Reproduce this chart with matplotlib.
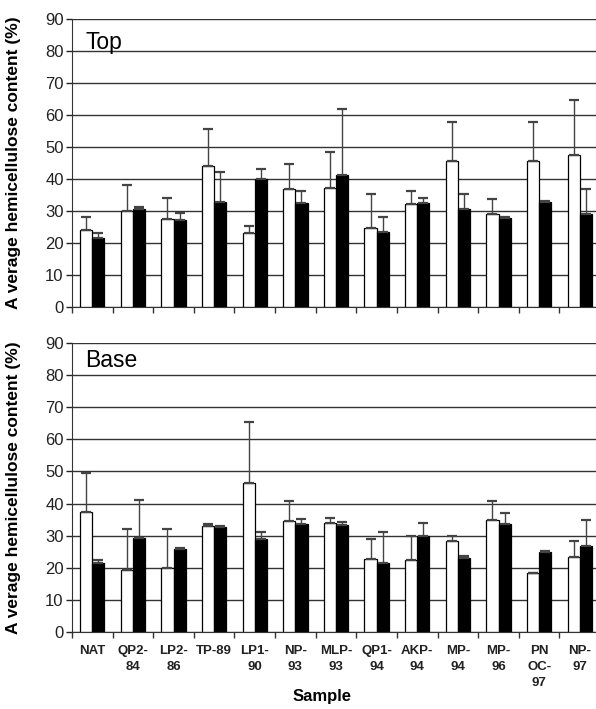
import matplotlib
matplotlib.use("Agg")
import matplotlib.pyplot as plt
import numpy as np

plt.rcParams['font.family'] = ['Liberation Sans', 'DejaVu Sans']

samples = ["NAT", "QP2-\n84", "LP2-\n86", "TP-89", "LP1-\n90", "NP-\n93", "MLP-\n93",
           "QP1-\n94", "AKP-\n94", "MP-\n94", "MP-\n96", "PN\nOC-\n97", "NP-\n97"]

# Top: mean values and upper error-bar ends
top_white = [24, 30, 27.5, 44, 23, 37, 37.3, 24.6, 32.1, 45.8, 29.2, 45.8, 47.5]
top_white_err = [28, 38, 34, 55.5, 25.3, 44.7, 48.5, 35.2, 36.2, 57.7, 33.8, 57.7, 64.8]
top_black = [21.5, 30.5, 27.2, 32.8, 40, 32.5, 41.2, 23.3, 32.5, 30.6, 27.7, 32.9, 29]
top_black_err = [23, 31.3, 29.3, 42.3, 43.3, 36.2, 61.9, 28.1, 34.2, 35.2, 28.1, 33.1, 36.9]

# Base
base_white = [37.5, 19.3, 19.8, 33, 46.5, 34.7, 34, 22.8, 22.4, 28.4, 35, 18.3, 23.4]
base_white_err = [49.4, 32.2, 32.2, 33.6, 65.3, 40.9, 35.4, 29.1, 29.9, 30, 40.9, 18.5, 28.4]
base_black = [21.4, 29.2, 25.9, 32.7, 28.9, 33.7, 33.2, 21.4, 30, 23.2, 33.6, 25, 26.7]
base_black_err = [22.4, 41, 26.2, 32.9, 31.2, 35.1, 34.4, 31.2, 34, 23.7, 37, 25.3, 35]

fig = plt.figure(figsize=(5.96, 7.09), dpi=100)
ax_top = fig.add_axes([0.1208, 0.567, 0.886, 0.406])
ax_base = fig.add_axes([0.1208, 0.1086, 0.886, 0.4076])

x = np.arange(len(samples))
w = 0.3


def draw(ax, white, white_err, black, black_err, title, ty):
    white = np.array(white)
    black = np.array(black)
    ax.set_axisbelow(True)
    ax.yaxis.grid(True, color="#333333", linewidth=1.0)
    ax.bar(x - w / 2, white, w, color="white", edgecolor="black", linewidth=0.9, zorder=2)
    ax.bar(x + w / 2, black, w, color="black", edgecolor="black", linewidth=0.9, zorder=2)
    ax.errorbar(x - w / 2, white, yerr=[np.zeros_like(white), np.array(white_err) - white],
                fmt="none", ecolor="#444444", elinewidth=1.0, capsize=3.5, capthick=1.6, zorder=3)
    ax.errorbar(x + w / 2, black, yerr=[np.zeros_like(black), np.array(black_err) - black],
                fmt="none", ecolor="#444444", elinewidth=1.0, capsize=3.5, capthick=1.6, zorder=3)
    ax.set_ylim(0, 90)
    ax.set_xlim(-0.5, len(samples) - 0.5)
    ax.set_yticks(range(0, 91, 10))
    ax.tick_params(axis="y", length=4, width=1, pad=2, labelsize=12, colors="#222222")
    ax.set_xticks(x)
    ax.set_xticks(np.arange(-0.5, len(samples), 1), minor=True)
    ax.tick_params(axis="x", which="major", length=0)
    ax.tick_params(axis="x", which="minor", length=4, width=1, color="#333333")
    for s in ["top", "right"]:
        ax.spines[s].set_visible(False)
    ax.spines["left"].set_color("#333333")
    ax.spines["bottom"].set_color("#333333")
    ax.set_ylabel("A verage hemicellulose content (%)", fontsize=12.5, fontweight="bold")
    ax.yaxis.set_label_coords(-0.097, 0.5)
    ax.text(0.025, ty, title, transform=ax.transAxes, fontsize=16.5, va="top", ha="left")


draw(ax_top, top_white, top_white_err, top_black, top_black_err, "Top", 0.96)
draw(ax_base, base_white, base_white_err, base_black, base_black_err, "Base", 0.98)

ax_top.set_xticklabels([])
ax_base.set_xticklabels(samples, fontsize=9.5, fontweight="bold", linespacing=1.45, color="#222222")
ax_base.tick_params(axis="x", which="major", pad=9)
fig.text(0.54, 0.017, "Sample", fontsize=12, fontweight="bold", ha="center", va="center")

fig.savefig("out.png", dpi=100)
